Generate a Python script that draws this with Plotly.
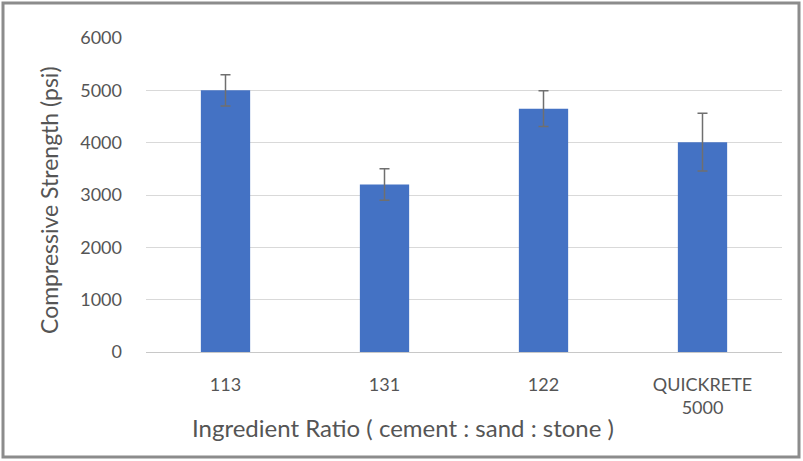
import plotly.graph_objects as go

categories = ["113", "131", "122", "QUICKRETE<br>5000"]
strength = [5000, 3200, 4650, 4010]
error = [300, 300, 340, 550]
y_ticks = [0, 1000, 2000, 3000, 4000, 5000, 6000]

W, H = 803, 461
ML, MR, MT, MB = 146, 21, 38, 109
pw, ph = W - ML - MR, H - MT - MB

def px_to_paper_x(x):
    return (x - ML) / pw

def px_to_paper_y(y):
    return (H - MB - y) / ph

fig = go.Figure()
fig.add_trace(go.Bar(
    x=categories, y=strength,
    marker=dict(color="#4472C4", line=dict(width=0)),
    error_y=dict(type="data", array=error, visible=True,
                 color="#6f6f6f", thickness=1.5, width=5),
    width=0.31,
))

font_family = "Lato, 'Open Sans', sans-serif"
fig.update_layout(
    width=W, height=H,
    margin=dict(l=ML, r=MR, t=MT, b=MB),
    paper_bgcolor="white", plot_bgcolor="white",
    showlegend=False,
    font=dict(family=font_family, color="#555555"),
    xaxis=dict(
        showgrid=False, showline=True, linecolor="#c8c8c8", linewidth=1,
        ticks="", tickfont=dict(size=18, color="#555555"),
        ticklabelstandoff=16,
    ),
    yaxis=dict(
        range=[0, 6000], tickvals=y_ticks,
        showgrid=True, gridcolor="#d9d9d9", gridwidth=1,
        zeroline=False, showline=False, ticks="",
        tickfont=dict(size=18, color="#555555"),
        ticklabelstandoff=23,
    ),
    annotations=[
        dict(text="Ingredient Ratio ( cement : sand : stone )",
             xref="paper", yref="paper",
             x=px_to_paper_x(403), y=px_to_paper_y(427),
             xanchor="center", yanchor="middle", showarrow=False,
             font=dict(size=24, color="#555555", family=font_family)),
        dict(text="Compressive Strength (psi)",
             xref="paper", yref="paper",
             x=px_to_paper_x(49), y=px_to_paper_y(200),
             xanchor="center", yanchor="middle", showarrow=False,
             textangle=-90,
             font=dict(size=23, color="#555555", family=font_family)),
    ],
    shapes=[
        dict(type="rect", xref="paper", yref="paper",
             x0=px_to_paper_x(3), x1=px_to_paper_x(799),
             y0=px_to_paper_y(457), y1=px_to_paper_y(3),
             line=dict(color="#8c8c8c", width=3), fillcolor="rgba(0,0,0,0)",
             layer="below"),
    ],
)

fig.write_html("out.html", config={"displayModeBar": False},
               post_script="document.body.style.margin='0';")
